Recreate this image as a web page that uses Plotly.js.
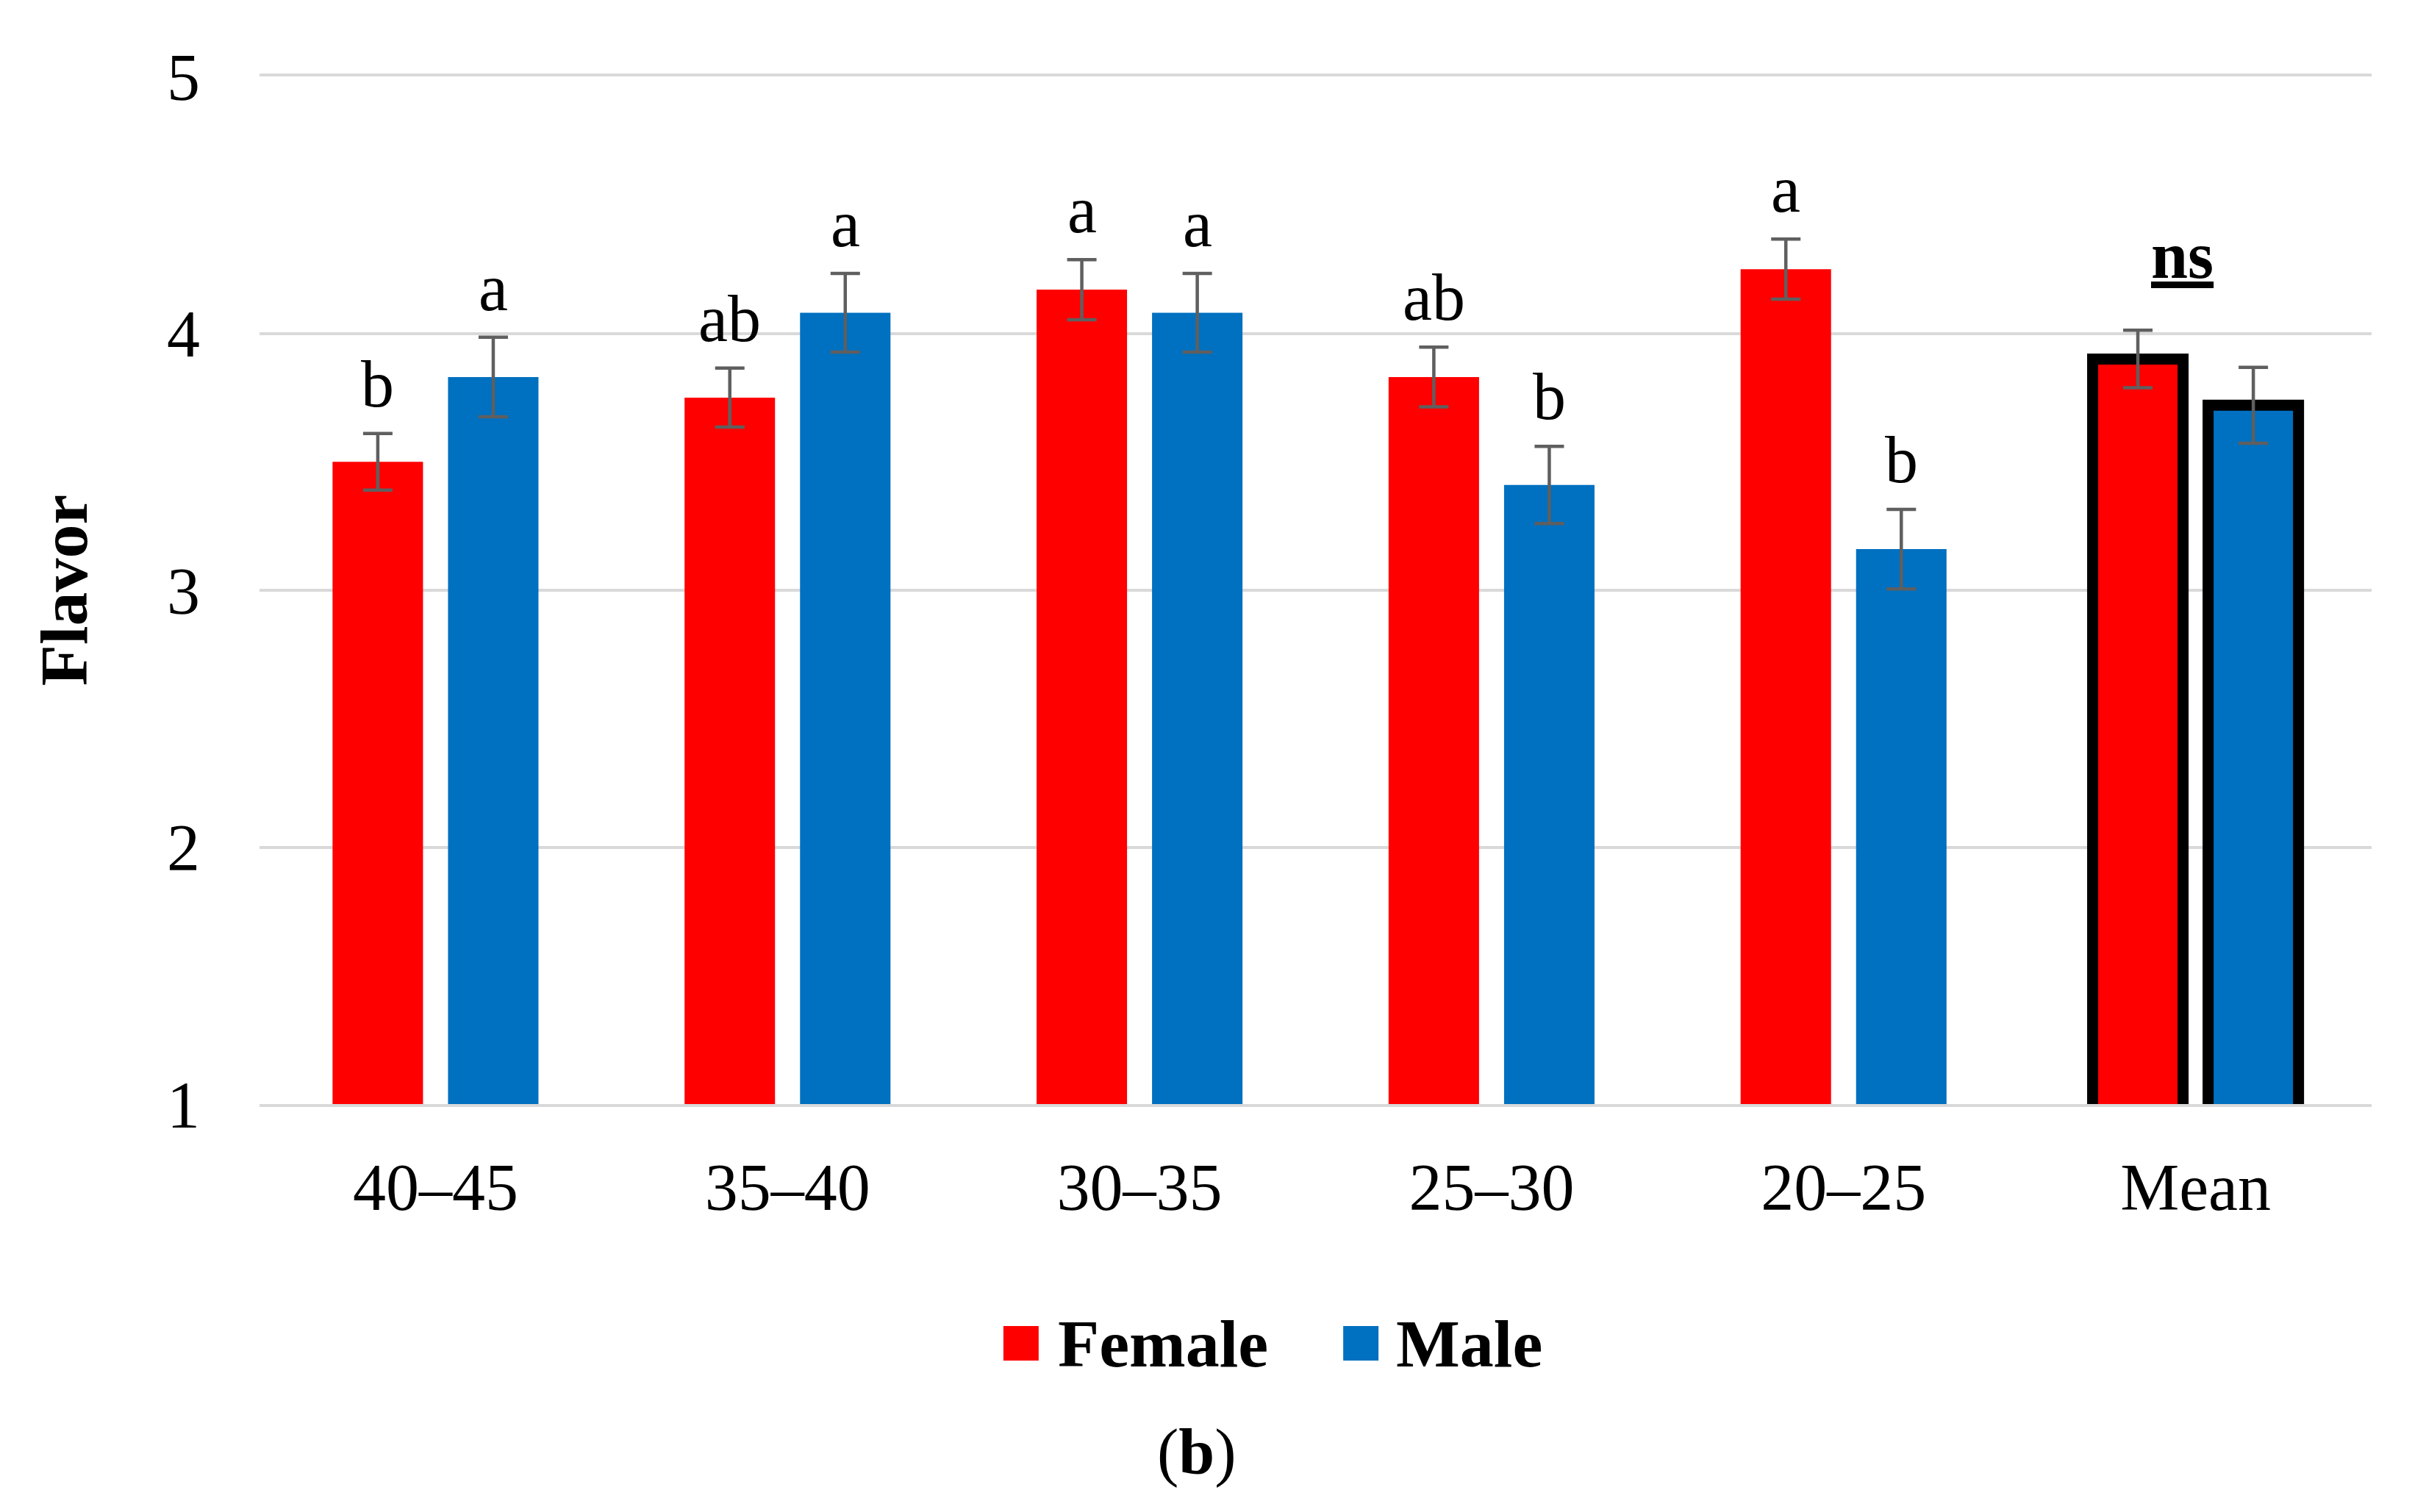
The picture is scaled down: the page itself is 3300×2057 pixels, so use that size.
<!DOCTYPE html>
<html><head><meta charset="utf-8">
<script src="https://cdn.plot.ly/plotly-3.0.1.min.js"></script>
<style>html,body{margin:0;padding:0;background:#fff}#chart{width:3300px;height:2057px}</style>
</head><body><div id="chart"></div>
<script>
// ---- data ----
const categories = ['40–45', '35–40', '30–35', '25–30', '20–25', 'Mean'];
const femaleValues = [3.50, 3.75, 4.17, 3.83, 4.25, 3.90];
const femaleErrors = [0.110, 0.115, 0.117, 0.116, 0.117, 0.112];
const maleValues = [3.83, 4.08, 4.08, 3.41, 3.16, 3.72];
const maleErrors = [0.155, 0.153, 0.153, 0.150, 0.155, 0.148];
const femaleLetters = ['b', 'ab', 'a', 'ab', 'a', ''];
const maleLetters = ['a', 'a', 'a', 'b', 'b', ''];
const meanLabel = 'ns';
const yTicks = [1, 2, 3, 4, 5];
const seriesNames = ['Female', 'Male'];
const yTitle = 'Flavor';
const panelLabel = '(<b>b</b>)';

// ---- style ----
const W = 3300, H = 2057;
const M = {l: 353, r: 74, t: 104, b: 555};
const BARGAP = 0.344, BARGROUPGAP = 0.2166;
const RED = '#ff0000', BLUE = '#0070c0';
const GRID = '#d9d9d9';
const FONT = 'Liberation Serif, Times New Roman, serif';
const ERR = {color: '#5f5f5f', thickness: 4.5, width: 20};
const borderW = categories.map(c => c === 'Mean' ? 15 : 0);

const plotW = W - M.l - M.r;
const catW = plotW / categories.length;
const halfSlot = (1 - BARGAP) * catW / 4;

const traces = [
  {type: 'bar', name: seriesNames[0], x: categories, y: femaleValues,
   marker: {color: RED, line: {color: '#000', width: borderW}},
   error_y: Object.assign({type: 'data', array: femaleErrors, visible: true}, ERR),
   showlegend: false, hoverinfo: 'x+y'},
  {type: 'bar', name: seriesNames[1], x: categories, y: maleValues,
   marker: {color: BLUE, line: {color: '#000', width: borderW}},
   error_y: Object.assign({type: 'data', array: maleErrors, visible: true}, ERR),
   showlegend: false, hoverinfo: 'x+y'}
];

const annotations = [];
categories.forEach((c, i) => {
  if (femaleLetters[i]) annotations.push({x: c, y: femaleValues[i] + femaleErrors[i], xref: 'x', yref: 'y',
    text: femaleLetters[i], showarrow: false, xshift: -halfSlot, yshift: 16, yanchor: 'bottom',
    font: {family: FONT, size: 90, color: '#000'}});
  if (maleLetters[i]) annotations.push({x: c, y: maleValues[i] + maleErrors[i], xref: 'x', yref: 'y',
    text: maleLetters[i], showarrow: false, xshift: halfSlot, yshift: 16, yanchor: 'bottom',
    font: {family: FONT, size: 90, color: '#000'}});
});
const mi = categories.indexOf('Mean');
annotations.push({x: categories[mi], y: femaleValues[mi] + femaleErrors[mi], xref: 'x', yref: 'y',
  text: '<b><u>' + meanLabel + '</u></b>', showarrow: false, xshift: -18, yshift: 50, yanchor: 'bottom',
  font: {family: FONT, size: 90, color: '#000'}});
// legend labels
annotations.push({x: 0.3773, y: -0.2333, xref: 'paper', yref: 'paper', xanchor: 'left', yanchor: 'middle',
  text: '<b>' + seriesNames[0] + '</b>', showarrow: false, font: {family: FONT, size: 92, color: '#000'}});
annotations.push({x: 0.5374, y: -0.2333, xref: 'paper', yref: 'paper', xanchor: 'left', yanchor: 'middle',
  text: '<b>' + seriesNames[1] + '</b>', showarrow: false, font: {family: FONT, size: 92, color: '#000'}});
// panel label
annotations.push({x: 0.4438, y: -0.339, xref: 'paper', yref: 'paper', xanchor: 'center', yanchor: 'middle',
  text: panelLabel, showarrow: false, font: {family: FONT, size: 88, color: '#000'}});

const shapes = [
  {type: 'rect', xref: 'paper', yref: 'paper', x0: 0.3522, x1: 0.3689, y0: -0.2497, y1: -0.2161,
   fillcolor: RED, line: {width: 0}},
  {type: 'rect', xref: 'paper', yref: 'paper', x0: 0.5131, x1: 0.5298, y0: -0.2497, y1: -0.2161,
   fillcolor: BLUE, line: {width: 0}}
];

const layout = {
  width: W, height: H, margin: M,
  paper_bgcolor: '#fff', plot_bgcolor: '#fff',
  barmode: 'group', bargap: BARGAP, bargroupgap: BARGROUPGAP,
  font: {family: FONT, size: 90, color: '#000'},
  showlegend: false,
  xaxis: {type: 'category', showgrid: false, zeroline: false, showline: true, mirror: true,
    linecolor: GRID, linewidth: 4, ticks: '',
    tickfont: {family: FONT, size: 90, color: '#000'}, ticklabelstandoff: 32, automargin: false},
  yaxis: {range: [1, 5], tickvals: yTicks, ticktext: yTicks.map(String), showgrid: true,
    gridcolor: GRID, gridwidth: 4, zeroline: false, showline: false, ticks: '',
    tickfont: {family: FONT, size: 90, color: '#000'}, ticklabelstandoff: 80, automargin: false,
    title: {text: '<b>' + yTitle + '</b>', font: {family: FONT, size: 92, color: '#000'}, standoff: 77}},
  annotations: annotations,
  shapes: shapes
};

Plotly.newPlot('chart', traces, layout, {displayModeBar: false, staticPlot: true});
</script>
</body></html>
